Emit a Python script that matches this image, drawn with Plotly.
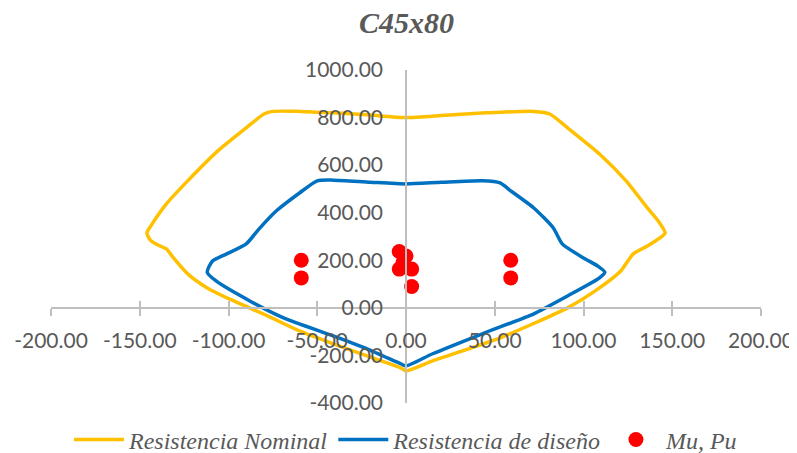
import plotly.graph_objects as go

# Resistencia Nominal (M, P)
nom_m = [0, -22, -41, -60, -75, -80, -90, -106, -123, -135, -143, -146, -144, -140, -135, -131,
         -123, -112, -97, -78, -60, -41, -22, -3, 0, 15, 53, 91, 109, 121, 128, 136, 143, 146,
         142, 136, 124, 109, 91, 81, 72, 45, 22, 0]
nom_p = [800, 812, 820, 826, 826, 815, 757, 660, 534, 437, 353, 315, 285, 265, 248, 210,
         143, 84, 29, -34, -97, -151, -202, -252, -265, -223, -126, 0, 84, 155, 227, 260, 294, 315,
         366, 420, 534, 647, 757, 815, 826, 820, 810, 800]

# Resistencia de diseño (M, P)
dis_m = [0, -20, -41, -50, -60, -73, -83, -90, -101, -109, -112, -107, -88, -69, -41, -22, -3, 0,
         15, 43, 72, 91, 109, 112, 108, 100, 88, 83, 72, 59, 53, 43, 20, 0]
dis_p = [521, 528, 537, 534, 483, 408, 330, 269, 227, 197, 150, 113, 29, -42, -118, -172, -235, -244,
         -193, -109, -25, 50, 126, 150, 176, 210, 269, 336, 420, 492, 525, 534, 528, 521]

# Mu, Pu
mu = [-59, -59, 59, 59, -3.8, 0, -1.7, -3.8, 3.2, 3.2]
pu = [200, 126, 200, 126, 237, 218, 189, 163, 163, 90]

x_ticks = [-200, -150, -100, -50, 0, 50, 100, 150, 200]
y_ticks = [-400, -200, 0, 200, 400, 600, 800, 1000]
x_labels = [f"{v:.2f}" for v in x_ticks]
y_labels = [f"{v:.2f}" for v in y_ticks]

GRAY = "#595959"
AXIS = "#BFBFBF"
tick_font = dict(family="Lato", size=21, color=GRAY)

fig = go.Figure()
fig.add_trace(go.Scatter(x=nom_m, y=nom_p, mode="lines", name="Resistencia Nominal",
                         line=dict(color="#FFC000", width=3.5, shape="spline", smoothing=0.6)))
fig.add_trace(go.Scatter(x=dis_m, y=dis_p, mode="lines", name="Resistencia de diseño",
                         line=dict(color="#0070C0", width=3.5, shape="spline", smoothing=0.6)))
fig.add_trace(go.Scatter(x=mu, y=pu, mode="markers", name="Mu, Pu",
                         marker=dict(color="#FF0000", size=15)))
# helper trace for the inner tick marks of the x axis
fig.add_trace(go.Scatter(x=[x_ticks[0], x_ticks[-1]], y=[0, 0], xaxis="x2", mode="lines",
                         line=dict(width=0), showlegend=False, hoverinfo="skip"))

x_pos = (0 - y_ticks[0]) / (y_ticks[-1] - y_ticks[0])
y_pos = (0 - x_ticks[0]) / (x_ticks[-1] - x_ticks[0])

fig.update_layout(
    width=797, height=453,
    margin=dict(l=43, r=44, t=62, b=58, autoexpand=False),
    paper_bgcolor="white", plot_bgcolor="white",
    title=dict(text="<b><i>C45x80</i></b>", x=0.5, xanchor="center", y=1 - 14 / 453, yanchor="middle",
               font=dict(family="Liberation Serif", size=30, color=GRAY)),
    xaxis=dict(range=[x_ticks[0], x_ticks[-1]], tickvals=x_ticks, ticktext=x_labels,
               showgrid=False, zeroline=False, showline=True, linecolor=AXIS, linewidth=1.5,
               ticks="outside", ticklen=7, tickcolor=AXIS, tickwidth=1.5, automargin=False,
               anchor="free", position=x_pos, tickfont=tick_font, ticklabelstandoff=7),
    xaxis2=dict(range=[x_ticks[0], x_ticks[-1]], tickvals=x_ticks, overlaying="x",
                showgrid=False, zeroline=False, showline=False, showticklabels=False,
                ticks="inside", ticklen=7, tickcolor=AXIS, tickwidth=1.5, automargin=False,
                anchor="free", position=x_pos, side="bottom"),
    yaxis=dict(range=[y_ticks[0], y_ticks[-1]], tickvals=y_ticks, ticktext=y_labels,
               showgrid=False, zeroline=False, showline=True, linecolor=AXIS, linewidth=1.5,
               ticks="", anchor="free", position=y_pos, tickfont=tick_font, ticklabelstandoff=18,
               automargin=False),
    legend=dict(orientation="h", x=0.5, xanchor="center", y=-0.111, yanchor="middle",
                font=dict(family="Liberation Serif", size=24, color=GRAY, style="italic"),
                itemwidth=50, tracegroupgap=0),
    showlegend=True,
)

fig.write_html("out.html")
